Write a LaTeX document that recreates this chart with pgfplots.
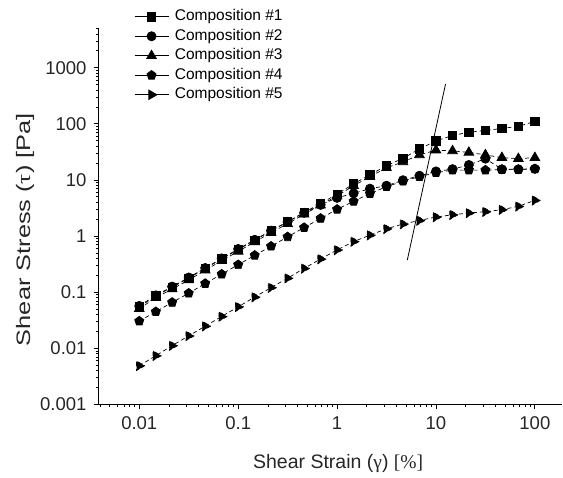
\documentclass[border=0pt]{standalone}
\usepackage{fontspec}
\setmainfont{Liberation Sans}
\newfontfamily\serif{Liberation Serif}
\usepackage{pgfplots}
\pgfplotsset{compat=1.18}

\pgfplotstableread{
x       c1     c2     c3     c4     c5
0.01    0.055  0.057  0.051  0.0306 0.0049
0.0147  0.086  0.088  0.080  0.045  0.0074
0.0215  0.123  0.126  0.114  0.066  0.0112
0.0316  0.178  0.183  0.165  0.096  0.0167
0.0464  0.266  0.27   0.247  0.143  0.0249
0.0681  0.391  0.40   0.364  0.21   0.037
0.1     0.574  0.59   0.534  0.309  0.055
0.147   0.846  0.86   0.79   0.455  0.082
0.215   1.24   1.25   1.15   0.66   0.121
0.316   1.80   1.8    1.67   0.97   0.178
0.464   2.64   2.6    2.45   1.42   0.266
0.681   3.83   3.6    3.56   2.07   0.391
1       5.56   4.8    5.2    3.0    0.567
1.47    8.55   5.8    7.9    4.17   0.80
2.15    12.4   7.0    11.5   5.73   1.04
3.16    18.0   7.9    16.5   7.6    1.35
4.64    24.3   9.9    21     9.5    1.64
6.81    35.7   11.9   28     11.5   1.90
10      49.7   14.2   34     13.5   2.19
14.7    62     15.6   33     15.0   2.40
21.5    71     18.5   31     15.0   2.58
31.6    76     24     28     15.0   2.72
46.4    83     15.5   25     15.3   2.96
68.1    90     15.5   24     15.3   3.39
100     111    15.8   25     15.8   4.34
}\datatable

\newcommand{\lgf}{\fontsize{15.5}{17}\selectfont}

\begin{document}
\begin{tikzpicture}
\path[use as bounding box] (-98.5pt,-73.5pt) rectangle (464.5pt,404.5pt);
\begin{axis}[
  at={(0pt,0pt)}, anchor=south west,
  scale only axis, width=463.5pt, height=376pt,
  xmode=log, ymode=log,
  xmin=0.00387, xmax=188, ymin=0.001, ymax=5000,
  axis x line*=bottom, axis y line*=left,
  axis line style={line width=0.9pt},
  tick align=outside,
  major tick length=5pt, minor tick length=3pt,
  every tick/.style={black, line width=0.8pt},
  xtick={0.01,0.1,1,10,100},
  xticklabels={0.01,0.1,1,10,100},
  minor xtick={0.004,0.005,0.006,0.007,0.008,0.009,
    0.02,0.03,0.04,0.05,0.06,0.07,0.08,0.09,
    0.2,0.3,0.4,0.5,0.6,0.7,0.8,0.9,
    2,3,4,5,6,7,8,9,
    20,30,40,50,60,70,80,90},
  ytick={0.001,0.01,0.1,1,10,100,1000},
  yticklabels={0.001,0.01,0.1,1,10,100,1000},
  minor ytick={0.002,0.003,0.004,0.005,0.006,0.007,0.008,0.009,
    0.02,0.03,0.04,0.05,0.06,0.07,0.08,0.09,
    0.2,0.3,0.4,0.5,0.6,0.7,0.8,0.9,
    2,3,4,5,6,7,8,9,
    20,30,40,50,60,70,80,90,
    200,300,400,500,600,700,800,900,
    2000,3000,4000,5000},
  ticklabel style={font=\fontsize{18.5}{20}\selectfont, text=black!85},
  xticklabel style={yshift=-4pt},
  yticklabel style={xshift=-3.5pt},
  xlabel={Shear Strain ({\serif γ}) {\serif [\%]}},
  ylabel={Shear Stress ({\serif τ}) [Pa]},
  label style={font=\fontsize{19.5}{22}\selectfont, text=black!85},
  xlabel style={at={(axis description cs:0.517,-0.158)}, anchor=center},
  ylabel style={at={(axis description cs:-0.1586,0.465)}, anchor=center, xscale=1.3},
  clip=false,
  every axis plot/.append style={black, line width=0.7pt, dash pattern=on 4pt off 3pt, mark options={solid, fill=black}},
  legend image code/.code={\draw[mark repeat=2,mark phase=2,#1,solid] plot coordinates {(0pt,0pt) (17pt,0pt) (34pt,0pt)};},
  legend style={at={(axis description cs:0.0766,1.051)}, anchor=north west,
    draw=none, fill=none, inner sep=0pt,
    font=\lgf,
    nodes={inner sep=0pt, text height=11pt, text depth=3.5pt},
    row sep=5pt,
    /tikz/every odd column/.append style={column sep=6pt}},
  legend cell align=left,
  reverse legend,
]
\addplot[mark=triangle*, mark size=5.5pt, mark options={rotate=-90}] table[x=x,y=c5] {\datatable};
\addlegendentry{\lgf Composition \#5}
\addplot[mark=pentagon*, mark size=4.8pt] table[x=x,y=c4] {\datatable};
\addlegendentry{\lgf Composition \#4}
\addplot[mark=triangle*, mark size=5.6pt] table[x=x,y=c3] {\datatable};
\addlegendentry{\lgf Composition \#3}
\addplot[mark=*, mark size=4.6pt] table[x=x,y=c2] {\datatable};
\addlegendentry{\lgf Composition \#2}
\addplot[mark=square*, mark size=4.2pt] table[x=x,y=c1] {\datatable};
\addlegendentry{\lgf Composition \#1}
\addplot[black, solid, line width=0.8pt, no marks, forget plot] coordinates {(5.13,0.375) (12.5,516)};
\end{axis}
\end{tikzpicture}
\end{document}
